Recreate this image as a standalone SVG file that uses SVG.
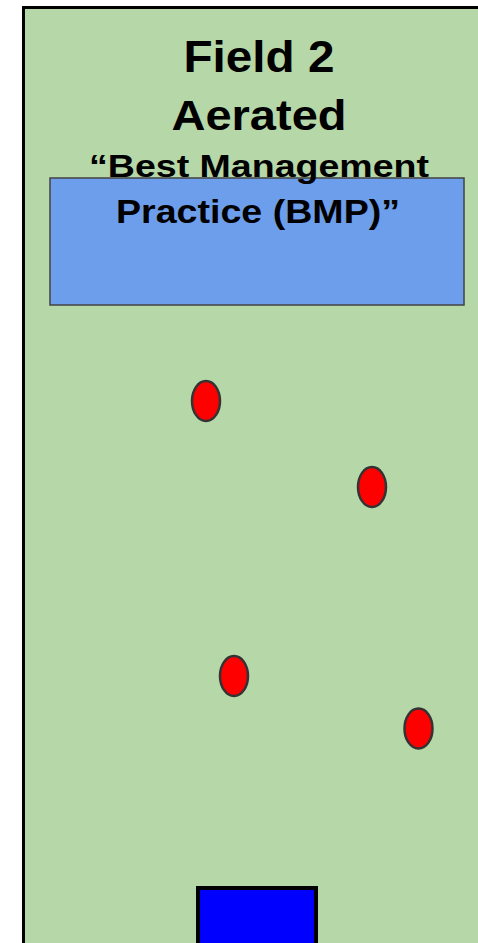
<svg xmlns="http://www.w3.org/2000/svg" width="478" height="943" viewBox="0 0 478 943">
<style>
.t{font-family:"Liberation Sans",Arial,sans-serif;font-weight:bold;fill:#000;text-anchor:middle}
.dot{fill:#ff0000;stroke:#333;stroke-width:2.5}
</style>
<rect width="478" height="943" fill="#fff"/>
<g id="field">
<rect x="23.5" y="7.5" width="470" height="950" fill="#b6d7a8" stroke="#000" stroke-width="3"/>
</g>
<g id="bmp">
<rect x="50" y="178" width="414" height="127" fill="#6d9eeb" stroke="#434343" stroke-width="1.5"/>
</g>
<g id="title">
<text class="t" x="259" y="72" font-size="44" textLength="151" lengthAdjust="spacingAndGlyphs">Field 2</text>
<text class="t" x="259" y="129.5" font-size="42" textLength="175" lengthAdjust="spacingAndGlyphs">Aerated</text>
<text class="t" x="259" y="177" font-size="32" textLength="340" lengthAdjust="spacingAndGlyphs">“Best Management</text>
<text class="t" x="258" y="223" font-size="33" textLength="284" lengthAdjust="spacingAndGlyphs">Practice (BMP)”</text>
</g>
<g id="samples">
<ellipse class="dot" cx="206" cy="401" rx="14" ry="20"/>
<ellipse class="dot" cx="372" cy="487" rx="14" ry="20"/>
<ellipse class="dot" cx="234" cy="676" rx="14" ry="20"/>
<ellipse class="dot" cx="418.5" cy="728.5" rx="14" ry="20"/>
</g>
<g id="outlet">
<rect x="198" y="888" width="118" height="70" fill="#0000ff" stroke="#000" stroke-width="4"/>
</g>
</svg>
